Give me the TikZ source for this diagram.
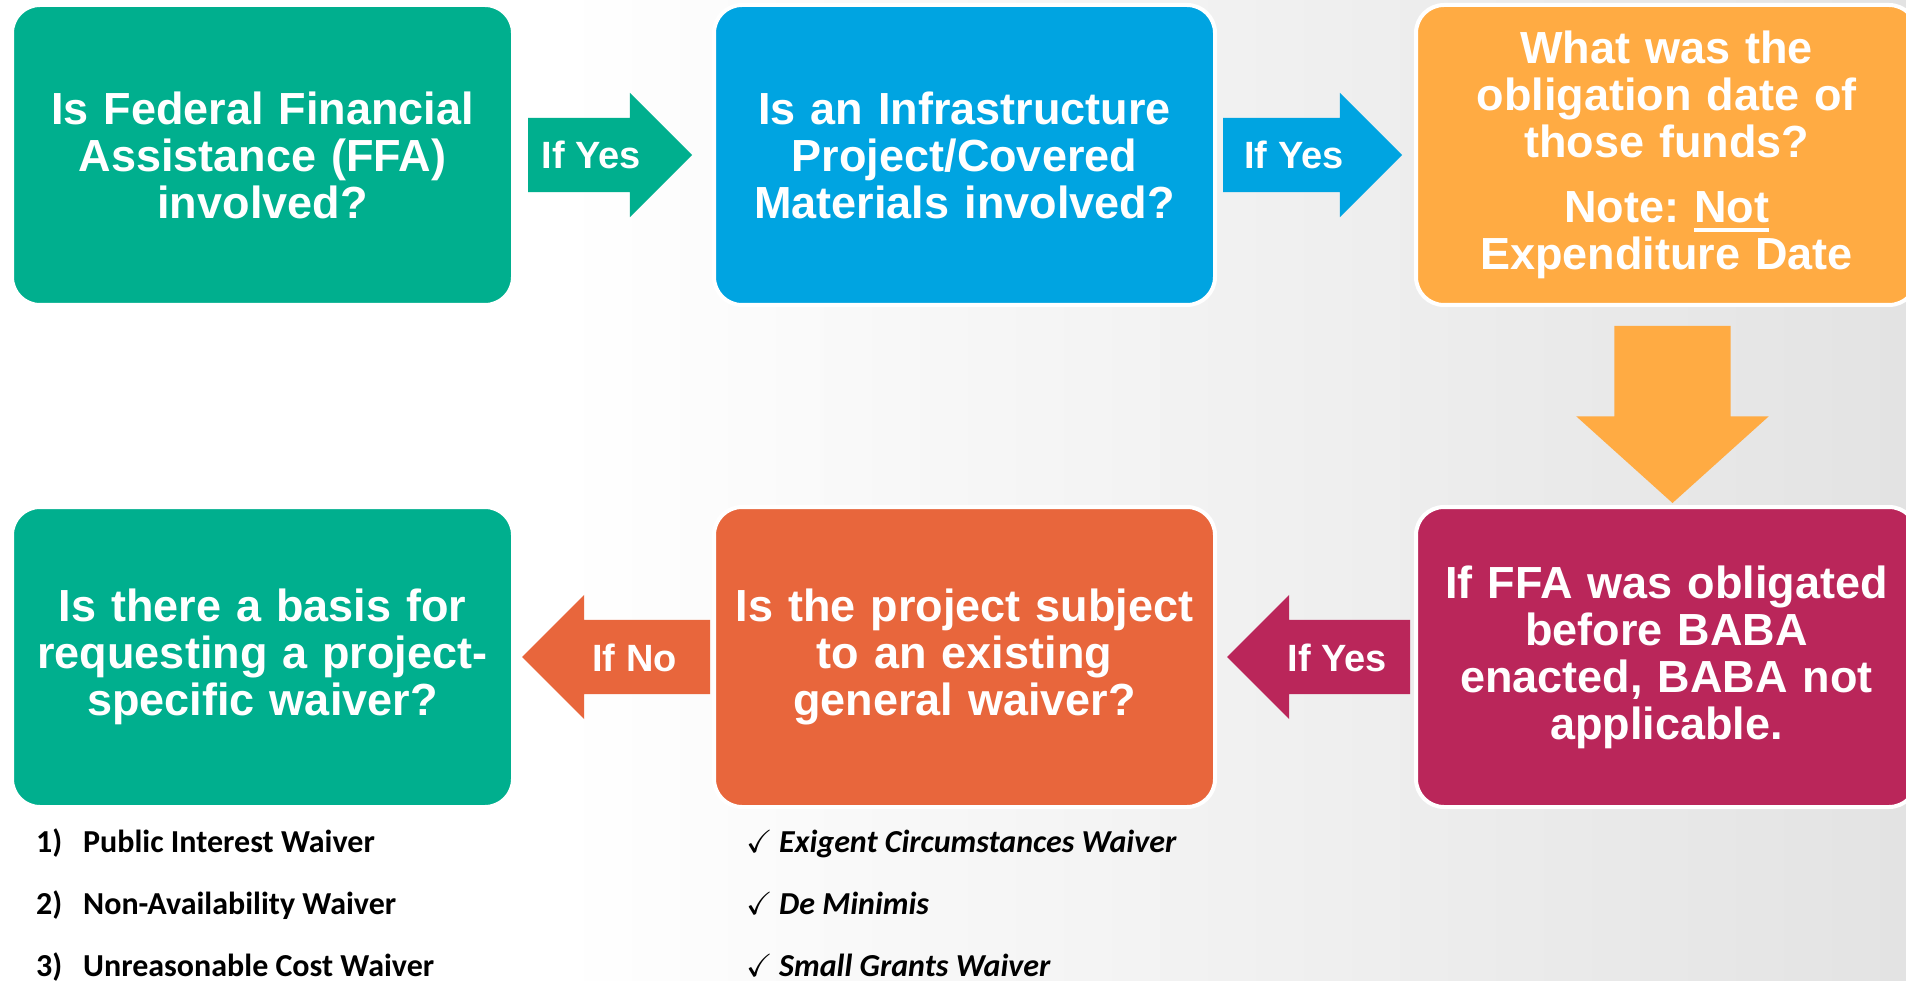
\documentclass[tikz,border=0pt]{standalone}
\usepackage{amsmath,amssymb}
\usepackage{fontspec}
\setmainfont{Liberation Sans}
\newfontfamily\calibri{Carlito}
\usetikzlibrary{positioning,shapes.arrows}

\definecolor{babagreen}{RGB}{0,175,142}
\definecolor{babablue}{RGB}{0,164,225}
\definecolor{babagold}{RGB}{255,171,67}
\definecolor{babaorange}{RGB}{232,102,60}
\definecolor{babaplum}{RGB}{186,38,90}

% thick underline for the note
\newcommand{\undl}[1]{\setbox0\hbox{#1}\rlap{\rule[-9pt]{\wd0}{3.5pt}}\box0}

\begin{document}
\begin{tikzpicture}[x=1pt, y=-1pt, node distance=201pt,
  box node/.style={draw=white, line width=4pt, rounded corners=28pt, outer sep=0pt,
    minimum width=501pt, minimum height=300pt, text width=480pt, align=center,
    text=white, font=\bfseries\fontsize{45}{47}\selectfont},
  arrow node/.style={single arrow, single arrow head extend=25pt, minimum width=124pt,
    inner sep=0pt, outer sep=0pt, text height=51pt, text depth=23pt,
    text=white, font=\bfseries\fontsize{38}{40}\selectfont},
  back arrow/.style={arrow node, shape border rotate=180},
  waiver/.style={anchor=base west, inner sep=0pt, font=\calibri\bfseries\fontsize{32}{36}\selectfont}]
\useasboundingbox (0,0) rectangle (1906,981);
\clip (0,0) rectangle (1906,981);
\fill[white] (0,0) rectangle (560,981);
\shade[left color=white, right color=black!11] (560,0) rectangle (1906,981);

% top row
\node[box node, fill=babagreen] (ffa) at (262.5,155) {Is Federal Financial\\Assistance (FFA)\\involved?};
\node[box node, fill=babablue, right=of ffa] (infra) {Is an Infrastructure\\Project/Covered\\Materials involved?};
\node[box node, fill=babagold, right=of infra] (date) {What was the\\obligation date of\\those funds?\\[18pt]Note:\ \undl{Not}\\Expenditure Date};

% bottom row
\node[box node, fill=babaplum, below=202pt of date] (enacted) {If FFA was obligated\\before BABA\\enacted, BABA not\\applicable.};
\node[box node, fill=babaorange, left=of enacted] (general) {Is the project subject\\to an existing\\general waiver?};
\node[box node, fill=babagreen, left=of general] (basis) {Is there a basis for\\requesting a project-\\specific waiver?};

% block arrows
\node[arrow node, fill=babagreen, minimum height=164pt, anchor=tail] (ffayes) at ([xshift=15pt]ffa.east) {If Yes};
\node[arrow node, fill=babablue, minimum height=179pt, anchor=tail] (infrayes) at ([xshift=8pt]infra.east) {If Yes};
\node[arrow node, fill=babagold, shape border rotate=270, minimum height=177pt, minimum width=192pt,
  text width=116pt, text height=0pt, text depth=0pt,
  single arrow head extend=38pt, single arrow tip angle=96, anchor=tail] (datedown) at ([xshift=6pt,yshift=-21pt]date.south) {};
\node[back arrow, fill=babaplum, minimum height=183pt, anchor=tip] (enactedyes) at ([xshift=12pt]general.east) {If Yes};
\node[back arrow, fill=babaorange, minimum height=188pt, anchor=tip] (generalno) at ([xshift=9pt]basis.east) {If No};

% waiver lists
\node[waiver] (pi) at (36,852) {\makebox[47pt][l]{1)}Public Interest Waiver};
\node[waiver] (na) at (36,914) {\makebox[47pt][l]{2)}Non-Availability Waiver};
\node[waiver] (uc) at (36,976) {\makebox[47pt][l]{3)}Unreasonable Cost Waiver};
\node[waiver] (ec) at (746,852) {\makebox[33pt][l]{$\checkmark$}\itshape Exigent Circumstances Waiver};
\node[waiver] (dm) at (746,914) {\makebox[33pt][l]{$\checkmark$}\itshape De Minimis};
\node[waiver] (sg) at (746,976) {\makebox[33pt][l]{$\checkmark$}\itshape Small Grants Waiver};
\end{tikzpicture}
\end{document}
